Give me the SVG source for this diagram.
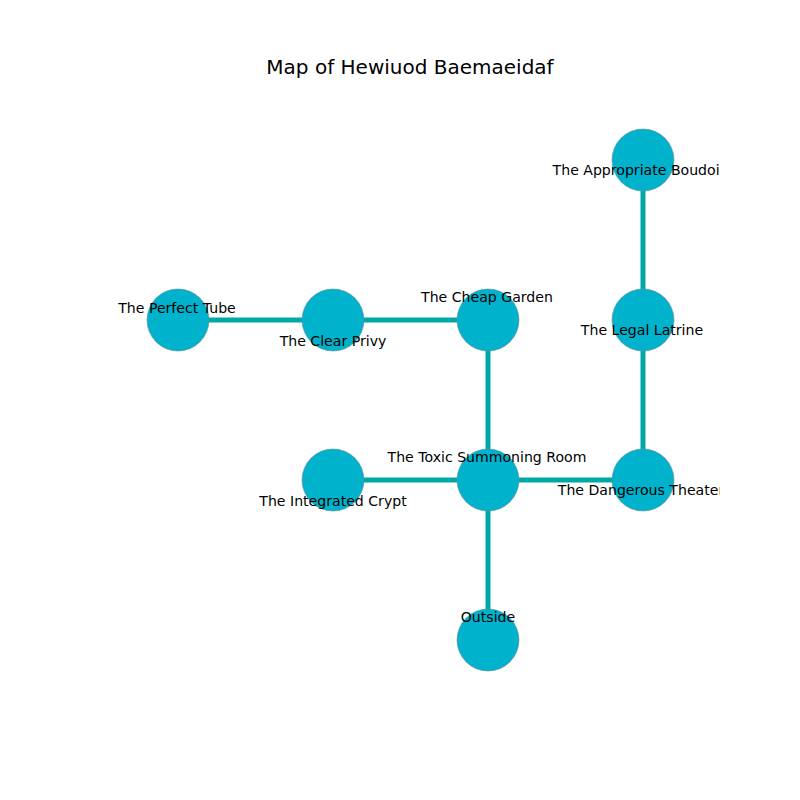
<svg xmlns="http://www.w3.org/2000/svg" width="800" height="800" viewBox="0 0 800 800">
<style>
.e{stroke:#00a7a7;stroke-width:5;fill:none}
.n{fill:#00b2cc;stroke:#5f8f96;stroke-width:0.6}
.t{font-family:"DejaVu Sans",sans-serif;font-size:14.1px;fill:#000;text-anchor:middle;dominant-baseline:central}
.title{font-family:"DejaVu Sans",sans-serif;font-size:20px;fill:#000;text-anchor:middle;dominant-baseline:central}
</style>
<defs><clipPath id="ax"><rect x="80" y="96" width="640" height="608"/></clipPath></defs>
<rect width="800" height="800" fill="#fff"/>
<text class="title" x="410" y="67">Map of Hewiuod Baemaeidaf</text>
<g id="connectors" clip-path="url(#ax)">
<line class="e" x1="178" y1="320" x2="333" y2="320"/>
<line class="e" x1="333" y1="320" x2="488" y2="320"/>
<line class="e" x1="488" y1="320" x2="488" y2="480"/>
<line class="e" x1="333" y1="480" x2="488" y2="480"/>
<line class="e" x1="488" y1="480" x2="643" y2="480"/>
<line class="e" x1="488" y1="480" x2="488" y2="640"/>
<line class="e" x1="643" y1="480" x2="643" y2="320"/>
<line class="e" x1="643" y1="320" x2="643" y2="160"/>
</g>
<g clip-path="url(#ax)">
<g id="boudoir"><circle class="n" cx="643" cy="160" r="31"/><text class="t" x="639" y="170">The Appropriate Boudoir</text></g>
<g id="tube"><circle class="n" cx="178" cy="320" r="31"/><text class="t" x="177" y="308">The Perfect Tube</text></g>
<g id="privy"><circle class="n" cx="333" cy="320" r="31"/><text class="t" x="333" y="341">The Clear Privy</text></g>
<g id="garden"><circle class="n" cx="488" cy="320" r="31"/><text class="t" x="487" y="297">The Cheap Garden</text></g>
<g id="latrine"><circle class="n" cx="643" cy="320" r="31"/><text class="t" x="642" y="330">The Legal Latrine</text></g>
<g id="crypt"><circle class="n" cx="333" cy="480" r="31"/><text class="t" x="333" y="501">The Integrated Crypt</text></g>
<g id="toxic"><circle class="n" cx="488" cy="480" r="31"/><text class="t" x="487" y="457">The Toxic Summoning Room</text></g>
<g id="theater"><circle class="n" cx="643" cy="480" r="31"/><text class="t" x="641" y="490">The Dangerous Theater</text></g>
<g id="outside"><circle class="n" cx="488" cy="640" r="31"/><text class="t" x="488" y="617">Outside</text></g>
</g>
</svg>
